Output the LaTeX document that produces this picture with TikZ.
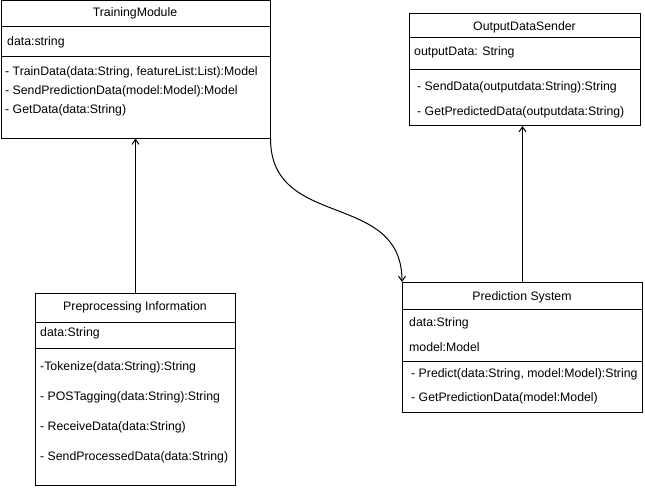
\documentclass[tikz,border=0pt]{standalone}
\usepackage{fontspec}
\setmainfont{Liberation Sans}
\usetikzlibrary{positioning,arrows.meta}

\tikzset{
	umlbox/.style={draw,line width=1pt,anchor=north west,inner sep=0pt},
	member/.style={anchor=west,inner sep=0pt},
	title/.style={anchor=center,inner sep=0pt},
	sep/.style={line width=1pt},
	link/.style={line width=1pt,-{Straight Barb[length=5pt,width=7pt]}}
}

\begin{document}
\begin{tikzpicture}[x=1pt,y=-1pt,font=\fontsize{12.3}{14}\selectfont]
	\useasboundingbox (0,0) rectangle (645,495);

	% class boxes
	\begin{scope}[every node/.style={umlbox}]
		\node[minimum width=269pt,minimum height=137pt] (train) at (0.5,0.5) {};
		\node[minimum width=231pt,minimum height=112pt] (sender) at (409,13) {};
		\node[minimum width=200pt,minimum height=192pt] (prep) at (35,293) {};
		\node[minimum width=240pt,minimum height=130pt] (predict) at (402,282) {};
	\end{scope}

	% compartments
	\begin{scope}[every path/.style={sep}]
		\draw ([yshift=-26pt]train.north west) -- ([yshift=-26pt]train.north east);
		\draw ([yshift=-56pt]train.north west) -- ([yshift=-56pt]train.north east);
		\draw ([yshift=-25pt]sender.north west) -- ([yshift=-25pt]sender.north east);
		\draw ([yshift=-57pt]sender.north west) -- ([yshift=-57pt]sender.north east);
		\draw ([yshift=-29pt]prep.north west) -- ([yshift=-29pt]prep.north east);
		\draw ([yshift=-55pt]prep.north west) -- ([yshift=-55pt]prep.north east);
		\draw ([yshift=-27pt]predict.north west) -- ([yshift=-27pt]predict.north east);
		\draw ([yshift=-79pt]predict.north west) -- ([yshift=-79pt]predict.north east);
	\end{scope}

	% TrainingModule
	\node[title] (trainT) at (135,13) {TrainingModule};
	\node[member] (trainA) at (7,42) {data:string};
	\node[member] (trainM1) at (5,72) {- TrainData(data:String, featureList:List):Model};
	\node[member] (trainM2) at (5,91) {- SendPredictionData(model:Model):Model};
	\node[member] (trainM3) at (5,110) {- GetData(data:String)};

	% OutputDataSender
	\node[title] (senderT) at (524.5,27) {OutputDataSender};
	\node[member] (senderA) at (414,52) {outputData: String};
	\node[member] (senderM1) at (417,87) {- SendData(outputdata:String):String};
	\node[member] (senderM2) at (417,112) {- GetPredictedData(outputdata:String)};

	% Preprocessing Information
	\node[title] (prepT) at (135,307) {Preprocessing Information};
	\node[member] (prepA) at (40,333) {data:String};
	\node[member] (prepM1) at (40,367) {-Tokenize(data:String):String};
	\node[member] (prepM2) at (40,397) {- POSTagging(data:String):String};
	\node[member] (prepM3) at (40,427) {- ReceiveData(data:String)};
	\node[member] (prepM4) at (40,457) {- SendProcessedData(data:String)};

	% Prediction System
	\node[title] (predictT) at (522,297) {Prediction System};
	\node[member] (predictA1) at (409,323) {data:String};
	\node[member] (predictA2) at (409,347) {model:Model};
	\node[member] (predictM1) at (411,374) {- Predict(data:String, model:Model):String};
	\node[member] (predictM2) at (411,398) {- GetPredictionData(model:Model)};

	% links
	\draw[link] (prep.north) -- (train.south);
	\draw[link] (predict.north) -- (predict.north |- sender.south);
	\draw[link] (train.south east) .. controls +(0,92) and +(0,-92) .. (predict.north west);
\end{tikzpicture}
\end{document}
